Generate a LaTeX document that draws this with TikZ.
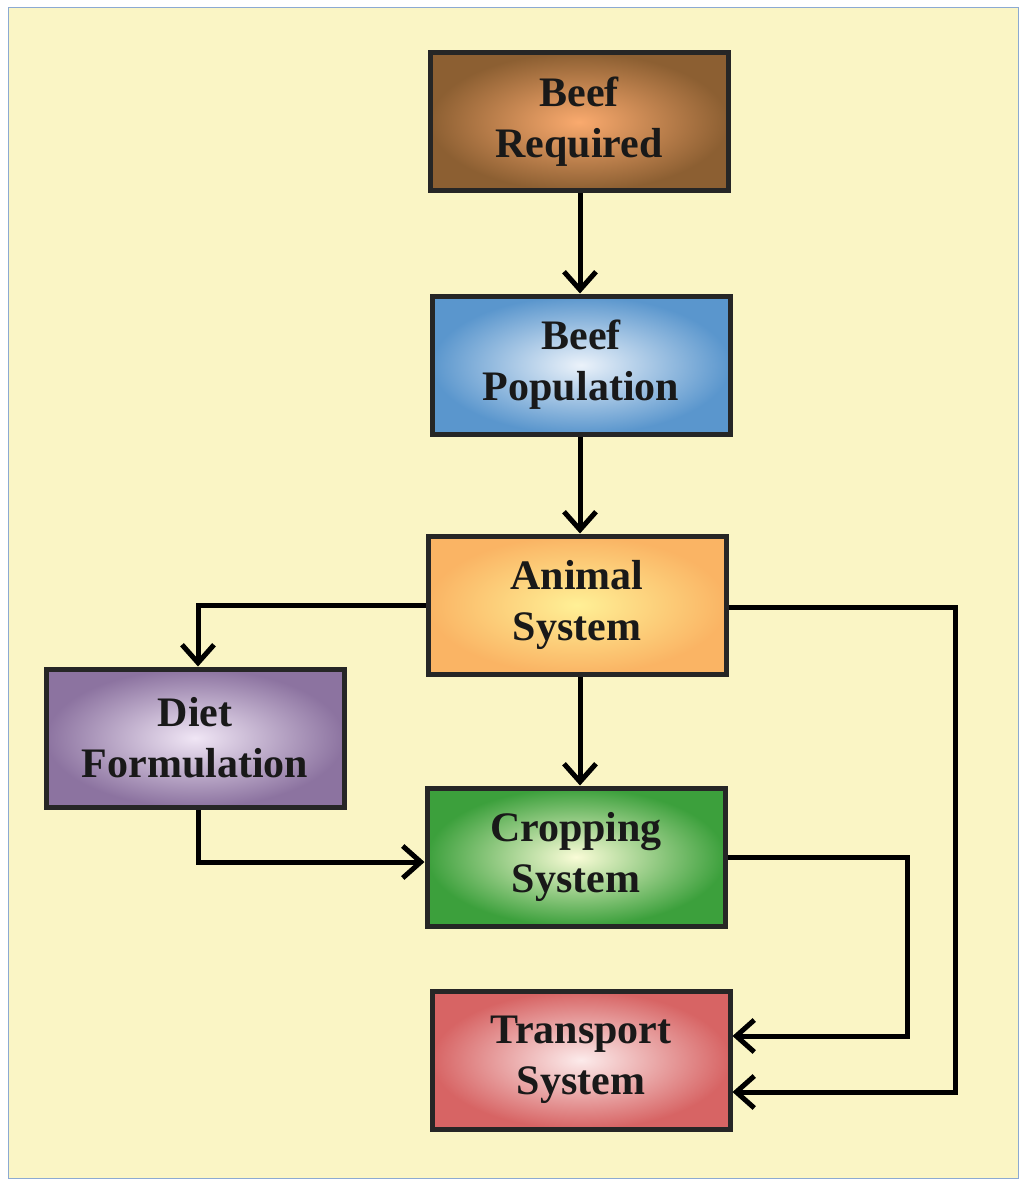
\documentclass[tikz,border=0pt]{standalone}
\usepackage{fontspec}
\setmainfont{Liberation Serif}
\usetikzlibrary{arrows.meta}
\begin{document}
\begin{tikzpicture}[x=1pt,y=-1pt,
  box/.style={draw=black!85,line width=5pt,minimum width=298pt,minimum height=138pt,
    align=center,font=\bfseries\fontsize{42}{51}\selectfont,text=black!90},
  conn/.style={line width=5pt,-{Straight Barb[length=18pt,width=32pt,line width=5pt]}}]
\useasboundingbox (0,0) rectangle (1024,1190);
\fill[white] (0,0) rectangle (1024,1190);
\draw[fill={rgb,255:red,250;green,245;blue,197},draw={rgb,255:red,140;green,170;blue,210},line width=1pt] (8,8) rectangle (1018,1178);
\node[box,shading=radial,inner color={rgb,255:red,250;green,170;blue,110},outer color={rgb,255:red,140;green,95;blue,50}] (req) at (579,122) {Beef\\Required};
\node[box,shading=radial,inner color={rgb,255:red,235;green,242;blue,250},outer color={rgb,255:red,90;green,150;blue,205}] (pop) at (581,365) {Beef\\Population};
\node[box,shading=radial,inner color={rgb,255:red,255;green,240;blue,150},outer color={rgb,255:red,250;green,180;blue,100}] (ani) at (577,605) {Animal\\System};
\node[box,shading=radial,inner color={rgb,255:red,240;green,230;blue,245},outer color={rgb,255:red,140;green,115;blue,160}] (diet) at (195,738) {Diet\\Formulation};
\node[box,shading=radial,inner color={rgb,255:red,250;green,252;blue,215},outer color={rgb,255:red,60;green,160;blue,60}] (crop) at (576,857) {Cropping\\System};
\node[box,shading=radial,inner color={rgb,255:red,252;green,235;blue,235},outer color={rgb,255:red,215;green,100;blue,100}] (tra) at (581,1060) {Transport\\System};
\draw[conn] (req.south -| 580,0) -- (pop.north -| 580,0);
\draw[conn] (pop.south -| 580,0) -- (ani.north -| 580,0);
\draw[conn] (ani.south -| 580,0) -- (crop.north -| 580,0);
\draw[conn] (ani.west |- 0,605) -| (diet.north -| 198,0);
\draw[conn] (diet.south -| 198,0) |- (crop.west |- 0,862);
\draw[conn] (ani.east |- 0,607) -| (955,1092) -- (tra.east |- 0,1092);
\draw[conn] (crop.east |- 0,857) -| (907,1036) -- (tra.east |- 0,1036);
\end{tikzpicture}
\end{document}
